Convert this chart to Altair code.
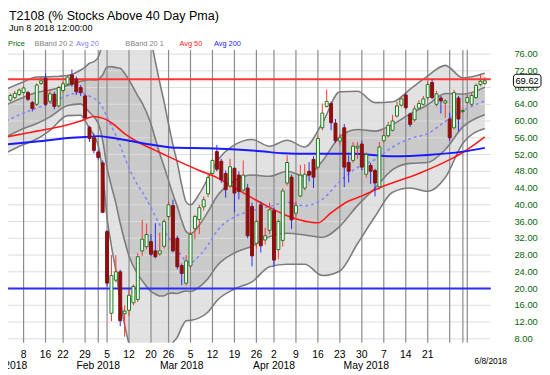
import altair as alt
import pandas as pd

TITLE = "T2108 (% Stocks Above 40 Day Pma)"
SUBTITLE = "Jun 8 2018 12:00:00"

# ---- daily candles (index 0 = Jan 2 2018 ... 109 = Jun 8 2018)
opens = [64.0, 65.0, 65.6, 66.3, 66.8, 66.8, 64.4, 64.0, 69.0, 70.2,
         64.7, 66.4, 63.6, 67.3, 68.8, 71.0, 70.0, 68.0, 66.0, 58.5,
         56.0, 52.6, 50.0, 33.6, 14.1, 22.0, 24.0, 14.0, 14.8, 16.6,
         17.4, 29.0, 30.0, 31.2, 29.0, 28.3, 30.1, 37.2, 39.8, 32.0,
         25.5, 21.3, 25.4, 34.3, 36.5, 39.5, 42.6, 47.5, 52.7, 50.4,
         47.5, 44.5, 48.7, 47.1, 43.5, 44.0, 39.6, 30.8, 40.0, 31.6,
         33.9, 38.6, 29.3, 31.5, 45.2, 46.6, 38.0, 42.1, 44.0, 48.0,
         50.8, 49.0, 58.4, 63.5, 64.2, 59.5, 55.2, 58.4, 50.1, 50.6,
         53.6, 54.5, 47.3, 49.4, 48.2, 44.3, 55.3, 56.5, 57.8, 61.2,
         63.8, 66.2, 61.7, 60.3, 63.1, 64.0, 65.6, 69.2, 64.0, 65.5,
         64.3, 60.5, 58.4, 65.5, 62.3, 64.5, 64.0, 65.6, 68.7, 69.0]
highs = [65.8, 66.6, 67.2, 67.8, 68.2, 67.2, 64.8, 69.0, 70.4, 71.4,
         67.5, 67.0, 68.4, 69.4, 71.0, 72.3, 70.6, 68.6, 66.4, 58.9,
         57.0, 53.0, 50.6, 34.0, 28.0, 28.0, 24.5, 16.0, 19.8, 21.0,
         28.5, 36.4, 35.5, 33.0, 35.6, 33.4, 36.6, 40.8, 41.2, 32.6,
         26.0, 28.0, 33.5, 37.6, 40.0, 42.0, 47.5, 51.0, 54.3, 51.0,
         48.2, 51.0, 49.0, 48.0, 50.6, 45.0, 40.5, 36.5, 40.8, 34.5,
         40.5, 39.3, 36.5, 44.0, 51.8, 47.2, 40.8, 49.5, 49.7, 50.2,
         51.6, 56.5, 64.2, 67.5, 64.7, 60.5, 57.0, 59.3, 51.8, 55.0,
         55.0, 55.3, 52.5, 50.0, 48.6, 55.0, 57.8, 59.8, 61.5, 64.7,
         66.0, 66.8, 62.0, 63.7, 65.0, 66.0, 69.3, 70.0, 67.2, 66.0,
         65.2, 62.0, 67.5, 66.0, 63.0, 66.3, 66.8, 69.0, 71.3, 70.5]
lows = [63.5, 64.6, 65.2, 66.0, 66.5, 64.8, 62.3, 63.6, 68.6, 63.6,
        64.2, 62.8, 63.2, 66.8, 68.4, 68.2, 66.2, 66.0, 60.5, 55.0,
        52.3, 50.8, 38.0, 20.5, 12.2, 21.5, 11.0, 8.5, 13.5, 16.0,
        16.8, 27.8, 29.4, 27.8, 27.2, 27.8, 29.6, 36.5, 28.6, 24.6,
        20.8, 20.7, 24.8, 31.8, 33.0, 38.6, 41.8, 47.0, 48.0, 45.2,
        41.7, 44.0, 38.2, 41.3, 42.8, 32.0, 25.3, 29.5, 28.6, 30.5,
        33.0, 25.2, 27.0, 30.0, 44.6, 34.2, 37.2, 41.8, 43.5, 45.6,
        44.0, 48.5, 57.8, 63.2, 57.8, 54.8, 54.4, 44.2, 45.3, 50.0,
        51.0, 48.2, 46.5, 45.0, 42.0, 43.6, 54.8, 56.0, 57.5, 60.8,
        63.4, 62.8, 58.6, 59.8, 62.8, 63.7, 65.0, 65.2, 63.5, 61.8,
        60.8, 55.3, 58.0, 57.5, 61.8, 64.0, 63.5, 65.3, 68.3, 68.6]
closes = [65.1, 66.1, 66.6, 67.4, 67.9, 65.2, 63.0, 68.6, 69.6, 64.0,
          66.5, 63.5, 68.0, 68.9, 70.5, 68.8, 67.0, 66.8, 60.8, 55.8,
          53.0, 51.3, 38.2, 21.3, 23.1, 24.0, 12.3, 14.6, 18.4, 20.5,
          27.6, 31.8, 32.9, 28.2, 27.6, 29.0, 36.0, 40.0, 29.0, 25.2,
          23.6, 26.6, 32.9, 37.2, 39.3, 41.2, 46.5, 50.6, 48.5, 46.0,
          43.6, 49.1, 42.8, 43.2, 47.1, 32.6, 27.8, 36.0, 30.2, 32.6,
          38.8, 26.8, 36.0, 43.3, 50.1, 36.4, 39.8, 47.1, 47.3, 47.1,
          46.6, 55.8, 61.9, 64.7, 59.6, 55.3, 56.0, 49.0, 48.0, 54.0,
          54.0, 49.0, 52.0, 48.0, 45.2, 53.8, 56.5, 59.0, 60.0, 63.6,
          65.3, 63.2, 59.2, 62.9, 64.2, 65.3, 68.7, 65.6, 66.5, 64.8,
          64.8, 56.0, 66.8, 60.5, 62.5, 65.6, 66.1, 68.5, 69.5, 69.62]

# ---- Bollinger bands / 20-day average read at sample days
bb_idx = [0, 4, 7, 10, 14, 17, 18, 19, 20, 21, 22, 23, 24, 25, 26, 27, 28, 30, 31, 33,
          34, 35, 36, 37, 38, 39, 40, 41, 42, 44, 46, 48, 52, 56, 60, 64, 68, 72, 76, 80,
          84, 88, 92, 96, 100, 104, 109]
avg20 = [60.0, 61.9, 63.1, 64.2, 66.1, 66.8, 66.5, 66.0, 65.4, 64.7, 63.2, 60.9, 58.7, 56.6,
         54.1, 51.4, 48.8, 44.7, 43.1, 39.3, 37.2, 35.2, 33.7, 32.3, 30.7, 29.2, 27.7, 26.5,
         26.2, 27.8, 30.4, 33.7, 37.1, 38.6, 39.6, 40.6, 39.8, 41.3, 45.6, 48.9, 50.8, 53.8,
         55.8, 57.0, 59.9, 62.5, 64.8]
bb2_up = [67.6, 69.4, 70.5, 70.6, 70.9, 72.2, 72.9, 73.8, 74.2, 75.3, 78.8, 84.9, 87.3, 89.0,
          91.1, 91.4, 90.8, 87.3, 85.5, 79.3, 74.2, 69.2, 64.5, 59.3, 54.3, 50.0, 44.7, 40.7,
          40.0, 42.6, 46.4, 50.3, 54.3, 55.6, 54.0, 55.4, 53.8, 59.5, 67.0, 67.1, 64.4, 64.6,
          67.6, 70.8, 73.3, 70.3, 71.4]
bb1_up = [63.8, 65.7, 66.8, 67.4, 68.5, 69.5, 69.7, 69.9, 69.8, 70.0, 71.0, 72.9, 73.0, 72.8,
          72.6, 71.4, 69.8, 66.0, 64.3, 59.3, 55.7, 52.2, 49.1, 45.8, 42.5, 39.6, 36.2, 33.6,
          33.1, 35.2, 38.4, 42.0, 45.7, 47.1, 46.8, 48.0, 46.8, 50.4, 56.3, 58.0, 57.6, 59.2,
          61.7, 63.9, 66.6, 66.4, 68.1]
bb1_lo = [56.2, 58.2, 59.4, 61.0, 63.7, 64.1, 63.3, 62.1, 61.0, 59.4, 55.4, 48.9, 44.4, 40.4,
          35.6, 31.4, 27.8, 23.4, 21.9, 19.3, 18.7, 18.2, 18.3, 18.8, 18.9, 18.8, 19.2, 19.4,
          19.3, 20.4, 22.4, 25.4, 28.5, 30.1, 32.4, 33.2, 32.8, 32.2, 34.9, 39.8, 44.0, 48.4,
          49.9, 50.1, 53.2, 58.6, 61.5]
bb2_lo = [52.4, 54.4, 55.7, 57.8, 61.3, 61.4, 60.1, 58.2, 56.6, 54.1, 47.6, 36.9, 30.1, 24.2,
          17.1, 11.4, 6.8, 2.1, 0.7, -0.7, 0.2, 1.2, 2.9, 5.3, 7.1, 8.4, 10.7, 12.3, 12.4,
          13.0, 14.4, 17.1, 19.9, 21.6, 25.2, 25.8, 25.8, 23.1, 24.2, 30.7, 37.2, 43.0, 44.0,
          43.2, 46.5, 54.7, 58.2]

ma50_idx = [0, 7, 13, 17, 20, 22, 24, 27, 30, 34, 37, 44, 48, 51, 58, 64, 69, 71, 74, 78,
            81, 86, 94, 101, 104, 109]
ma50 = [56.2, 57.6, 58.8, 60.0, 61.1, 60.7, 59.6, 57.0, 55.0, 53.0, 51.5, 48.2, 46.5, 44.7,
        40.5, 37.4, 35.9, 35.7, 38.1, 40.9, 42.1, 44.5, 47.5, 50.8, 52.5, 56.2]
ma200_idx = [0, 7, 15, 18, 21, 24, 28, 33, 39, 46, 58, 63, 66, 79, 88, 96, 104, 109]
ma200 = [54.4, 55.1, 56.0, 56.2, 56.4, 56.0, 55.3, 54.4, 53.6, 53.5, 52.8, 52.3, 52.2, 52.2,
         51.6, 51.9, 52.7, 53.6]

levels = [70, 20]
level_names = ["overbought", "oversold"]

y_ticks = [8, 12, 16, 20, 24, 28, 32, 36, 40, 44, 48, 52, 56, 60, 64, 68, 72, 76]
week_idx = [4, 9, 13, 18, 23, 28, 33, 37, 42, 47, 52, 57, 61, 66, 71, 76, 81, 86, 91, 96]
week_labels = ["8", "16", "22", "29", "5", "12", "20", "26", "5", "12", "19", "26",
               "2", "9", "16", "23", "30", "7", "14", "21"]
month_idx = [0, 21, 40, 61, 82]
month_labels = ["Jan 2018", "Feb 2018", "Mar 2018", "Apr 2018", "May 2018"]
extra_grid_idx = [21, 101, 104, 105]
last_date_label = "6/8/2018"

legend_items = ["Price", "BBand 20 2", "Avg 20", "BBand 20 1", "Avg 50", "Avg 200"]
legend_colors = ["#0a6b0a", "#7f7f7f", "#7d7dff", "#7f7f7f", "#ff1a1a", "#1a1aff"]
legend_x = [8, 35, 77, 127, 182, 217]

# ---------------------------------------------------------------
W, H = 498, 297
FONT = "Liberation Sans"
GREEN = "#127a12"
RED = "#8e0f0f"

xs = alt.Scale(domain=[-0.22, 109.23], nice=False, zero=False)
ys = alt.Scale(domain=[7.06, 76.94], nice=False, zero=False)

candles = pd.DataFrame({"idx": list(range(len(closes))), "open": opens, "high": highs,
                        "low": lows, "close": closes})
candles["dir"] = ["up" if c >= o else "down" for o, c in zip(opens, closes)]
bands = pd.DataFrame({"idx": bb_idx, "avg20": avg20, "u2": bb2_up, "u1": bb1_up,
                      "l1": bb1_lo, "l2": bb2_lo})
ma50_df = pd.DataFrame({"idx": ma50_idx, "v": ma50})
ma200_df = pd.DataFrame({"idx": ma200_idx, "v": ma200})
lev_df = pd.DataFrame({"v": levels, "name": level_names})
ytick_df = pd.DataFrame({"v": y_ticks})
vgrid_df = pd.DataFrame({"idx": week_idx + extra_grid_idx})
week_df = pd.DataFrame({"idx": week_idx, "t": week_labels})
month_df = pd.DataFrame({"idx": month_idx, "t": month_labels})
last_df = pd.DataFrame({"idx": [len(closes) - 1], "v": [closes[-1]], "t": [last_date_label]})

X = alt.X("idx:Q", scale=xs, axis=None)


def Y(field):
    return alt.Y(field, scale=ys, axis=None)


outer = alt.Chart(bands).mark_area(color="#e2e2e2", interpolate="monotone", clip=True).encode(
    X, Y("u2:Q"), y2="l2:Q")
inner = alt.Chart(bands).mark_area(color="#cacaca", interpolate="monotone", clip=True).encode(
    X, Y("u1:Q"), y2="l1:Q")
hgrid = alt.Chart(ytick_df).mark_rule(color="#dcdcdc", strokeWidth=1).encode(Y("v:Q"))
ylabels = alt.Chart(ytick_df).mark_text(font=FONT, fontSize=9.5, color="#0b650b", align="left",
                                        baseline="middle").encode(
    x=alt.value(W + 24), y=Y("v:Q"), text=alt.Text("v:Q", format=".2f"))
vgrid = alt.Chart(vgrid_df).mark_rule(color="#8a8a8a", strokeWidth=1.2).encode(X)
band_lines = alt.Chart(bands).transform_fold(["u2", "u1", "l1", "l2"]).mark_line(
    color="#7c7c7c", strokeWidth=1.6, interpolate="monotone", clip=True).encode(
    X, Y("value:Q"), detail="key:N")
avg20_line = alt.Chart(bands).mark_line(color="#8585ff", strokeWidth=1.6, strokeDash=[3, 3],
                                        interpolate="monotone", clip=True).encode(X, Y("avg20:Q"))
ma50_line = alt.Chart(ma50_df).mark_line(color="#ff1a1a", strokeWidth=1.6,
                                         interpolate="monotone", clip=True).encode(X, Y("v:Q"))
ma200_line = alt.Chart(ma200_df).mark_line(color="#1a1aff", strokeWidth=2,
                                           interpolate="monotone", clip=True).encode(X, Y("v:Q"))
lev_lines = alt.Chart(lev_df).mark_rule(strokeWidth=2).encode(
    Y("v:Q"),
    color=alt.Color("name:N", scale=alt.Scale(domain=level_names, range=["#ff3333", "#2b2bff"]),
                    legend=None))

cscale = alt.Scale(domain=["up", "down"], range=[GREEN, RED])
wicks = alt.Chart(candles).mark_rule(strokeWidth=1).encode(
    X, Y("low:Q"), y2="high:Q", color=alt.Color("dir:N", scale=cscale, legend=None))
up_bodies = alt.Chart(candles).transform_filter("datum.dir == 'up'").mark_bar(
    width=3, fill="white", stroke=GREEN, strokeWidth=1).encode(X, Y("open:Q"), y2="close:Q")
down_bodies = alt.Chart(candles).transform_filter("datum.dir == 'down'").mark_bar(
    width=3, fill=RED, stroke=RED, strokeWidth=1).encode(X, Y("open:Q"), y2="close:Q")

week_text = alt.Chart(week_df).mark_text(font=FONT, fontSize=10.5, color="black",
                                         baseline="middle").encode(X, y=alt.value(H + 12), text="t:N")
month_text = alt.Chart(month_df).mark_text(font=FONT, fontSize=10.5, color="black",
                                           baseline="middle").encode(X, y=alt.value(H + 24), text="t:N")
date_text = alt.Chart(last_df).mark_text(font=FONT, fontSize=8.5, color="black", baseline="middle",
                                         dx=6).encode(X, y=alt.value(H + 19), text="t:N")

box = alt.Chart(last_df).transform_calculate(hi="datum.v + 1.55", lo="datum.v - 1.55").mark_rect(
    fill="white", stroke="black", strokeWidth=1, cornerRadius=3).encode(
    x=alt.value(W + 23), x2=alt.value(W + 51), y=Y("hi:Q"), y2="lo:Q")
box_text = alt.Chart(last_df).mark_text(font=FONT, fontSize=9.5, color="black", align="left",
                                        baseline="middle").encode(
    x=alt.value(W + 25), y=Y("v:Q"), text=alt.Text("v:Q", format=".2f"))

one = pd.DataFrame({"a": [0]})
title_t = alt.Chart(one).mark_text(text=TITLE, font=FONT, fontSize=12.7, color="black",
                                   align="left", baseline="alphabetic").encode(
    x=alt.value(9), y=alt.value(-31))
sub_t = alt.Chart(one).mark_text(text=SUBTITLE, font=FONT, fontSize=9.3, color="black",
                                 align="left", baseline="alphabetic").encode(
    x=alt.value(9), y=alt.value(-19))
legend_layers = [
    alt.Chart(one).mark_text(text=t, font=FONT, fontSize=7.5, color=c, align="left",
                             baseline="alphabetic").encode(x=alt.value(px), y=alt.value(-4))
    for t, c, px in zip(legend_items, legend_colors, legend_x)
]

chart = alt.layer(
    outer, inner, hgrid, vgrid, band_lines, avg20_line, ma50_line, ma200_line, lev_lines,
    wicks, up_bodies, down_bodies, ylabels, week_text, month_text, date_text, box, box_text,
    title_t, sub_t, *legend_layers
).properties(
    width=W, height=H,
    autosize=alt.AutoSizeParams(type="none"),
    padding={"left": -8, "top": 40, "right": 52, "bottom": 30},
    background="white",
).configure_view(stroke=None)

chart.save("out.html", embed_options={"renderer": "svg", "actions": False})
